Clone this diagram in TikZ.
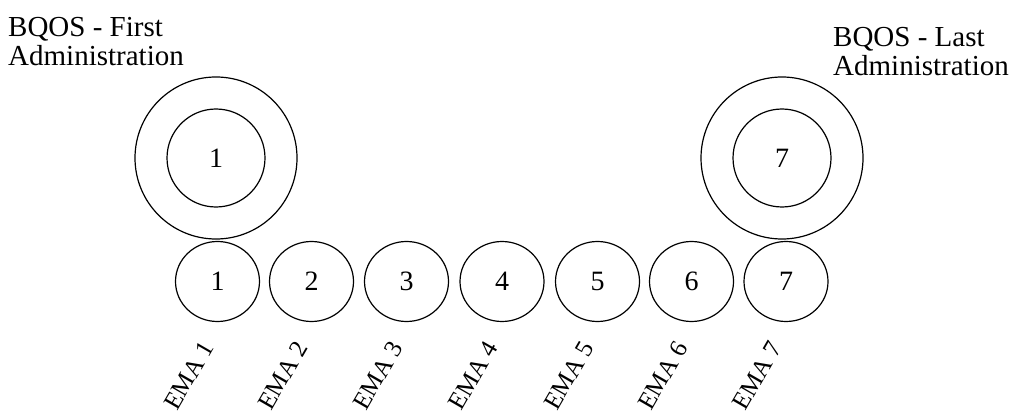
\documentclass[tikz,border=0pt]{standalone}
\usepackage{fontspec}
\setmainfont{Liberation Serif}
\usetikzlibrary{shapes.geometric}
\begin{document}
\begin{tikzpicture}[x=1pt,y=1pt,
  ema/.style={ellipse,draw,line width=1.2pt,minimum width=84pt,minimum height=80pt,inner sep=0pt,font=\fontsize{28}{28}\selectfont},
  outer/.style={circle,draw,line width=1.2pt,minimum size=162pt,inner sep=0pt},
  inner/.style={circle,draw,line width=1.2pt,minimum size=98pt,inner sep=0pt,font=\fontsize{28}{28}\selectfont},
  title/.style={align=left,inner sep=0pt,font=\fontsize{29}{29}\selectfont},
  lab/.style={rotate=60,anchor=base east,inner sep=0pt,font=\fontsize{25}{25}\selectfont}]
\useasboundingbox (0,0) rectangle (1016,-414);
\node[title,anchor=north west] (t1) at (8,-17) {BQOS - First\\Administration};
\node[title,anchor=north west] (t2) at (833,-27) {BQOS - Last\\Administration};
\node[outer] (o1) at (216,-158) {};
\node[inner] (i1) at (216,-158) {1};
\node[outer] (o7) at (782,-158) {};
\node[inner] (i7) at (782,-158) {7};
\foreach \i/\x in {1/217.5,2/311.5,3/406.5,4/502,5/597.5,6/691.5,7/786}{
  \node[ema] (e\i) at (\x,-281.5) {\i};
  \node[lab] (l\i) at (\x-3,-347) {EMA \i};
}
\end{tikzpicture}
\end{document}
